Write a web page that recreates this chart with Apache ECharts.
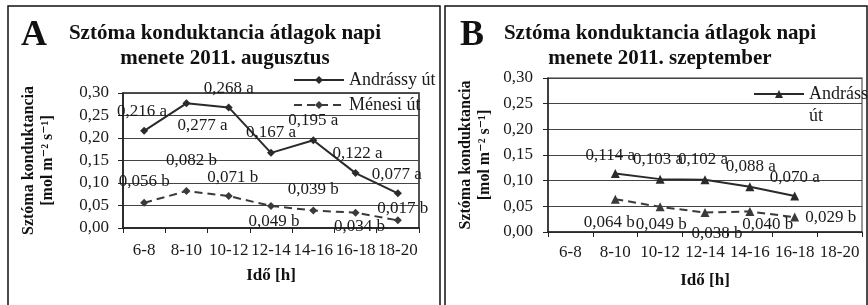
<!DOCTYPE html>
<html>
<head>
<meta charset="utf-8">
<script src="https://cdn.jsdelivr.net/npm/echarts@6/dist/echarts.min.js"></script>
<style>
    body { margin: 0; background: #fff; }
    #chartA { position: absolute; left: 0; top: 0; width: 442px; height: 305px; }
    #chartB { position: absolute; left: 442px; top: 0; width: 426px; height: 305px; }
</style>
</head>
<body>
<div id="chartA"></div>
<div id="chartB"></div>
<script>
var categories = ['6-8', '8-10', '10-12', '12-14', '14-16', '16-18', '18-20'];

// augusztus
var andrassyAug = [0.216, 0.277, 0.268, 0.167, 0.195, 0.122, 0.077];
var menesiAug = [0.056, 0.082, 0.071, 0.049, 0.039, 0.034, 0.017];
// szeptember
var andrassySep = ['-', 0.114, 0.103, 0.102, 0.088, 0.070, '-'];
var menesiSep = ['-', 0.064, 0.049, 0.038, 0.040, 0.029, '-'];

var letterAndrassy = 'a';
var letterMenesi = 'b';

// label offsets (px) from the point
var offAndrassyAug = [[-2, -19], [16, 22], [0, -19], [0, -20], [0, -20], [2, -20], [-1, -19]];
var offMenesiAug = [[0, -21], [5, -31], [4, -19], [3, 16], [0, -21], [4, 14], [5, -12]];
var offAndrassySep = [[0, 0], [-5, -18], [-2, -20], [-2, -20], [1, -20], [0, -19], [0, 0]];
var offMenesiSep = [[0, 0], [-6, 23], [1, 18], [12, 21], [18, 13], [36, 0], [0, 0]];

var serif = '"Liberation Serif", "DejaVu Serif", serif';

function fmt(v, digits) {
    return v.toFixed(digits).replace('.', ',');
}

function makeData(values, offsets) {
    var data = [];
    for (var i = 0; i < values.length; i++) {
        data.push({
            value: values[i],
            label: {offset: offsets[i]}
        });
    }
    return data;
}

function makeSeries(name, values, offsets, letter, symbol, size, dashed) {
    return {
        name: name,
        type: 'line',
        data: makeData(values, offsets),
        symbol: symbol,
        symbolSize: size,
        itemStyle: {color: dashed ? '#3a3a3a' : '#2a2a2a'},
        lineStyle: {
            color: dashed ? '#3a3a3a' : '#2a2a2a',
            width: 2,
            type: dashed ? [8, 5] : 'solid'
        },
        label: {
            show: true,
            position: 'inside',
            color: '#1a1a1a',
            fontFamily: serif,
            fontSize: 17,
            formatter: function (p) {
                return fmt(p.value, 3) + ' ' + letter;
            }
        },
        emphasis: {disabled: true},
        animation: false
    };
}

function createDayChart(id, cfg) {
    var chart = echarts.init(document.getElementById(id));
    var option = {
        backgroundColor: '#fff',
        animation: false,
        title: [
            {
                text: cfg.letter,
                left: cfg.letterX,
                top: 18,
                padding: 0,
                textStyle: {fontFamily: serif, fontSize: 36, fontWeight: 'bold', color: '#111', lineHeight: 36}
            },
            {
                text: cfg.title,
                left: cfg.titleX,
                top: 21,
                padding: 0,
                textAlign: 'center',
                textStyle: {fontFamily: serif, fontSize: 21, fontWeight: 'bold', color: '#111', lineHeight: 25}
            }
        ],
        legend: cfg.legend,
        grid: {
            left: cfg.grid[0],
            top: cfg.grid[1],
            width: cfg.grid[2],
            height: cfg.grid[3],
            show: true,
            backgroundColor: 'transparent',
            borderColor: cfg.frameColor,
            borderWidth: 1.5,
            containLabel: false,
            outerBoundsMode: 'none'
        },
        xAxis: {
            type: 'category',
            data: categories,
            boundaryGap: true,
            name: 'Idő [h]',
            nameLocation: 'middle',
            nameGap: cfg.xNameGap,
            nameTextStyle: {fontFamily: serif, fontSize: 17, fontWeight: 'bold', color: '#111'},
            axisLine: {lineStyle: {color: '#222', width: 1.5}},
            axisTick: {show: true, length: 5, alignWithLabel: false, lineStyle: {color: '#222'}},
            axisLabel: {
                interval: 0,
                hideOverlap: false,
                margin: cfg.xLabelMargin,
                fontFamily: serif,
                fontSize: 17,
                color: '#1a1a1a'
            },
            splitLine: {show: false}
        },
        yAxis: {
            type: 'value',
            min: 0,
            max: 0.3,
            interval: 0.05,
            name: 'Sztóma konduktancia\n[mol m⁻² s⁻¹]',
            nameLocation: 'middle',
            nameRotate: 90,
            nameGap: cfg.yNameGap,
            nameMoveOverlap: false,
            nameTextStyle: {fontFamily: serif, fontSize: 16, fontWeight: 'bold', color: '#111', lineHeight: 19},
            axisLine: {show: true, lineStyle: {color: '#222', width: 1.5}},
            axisTick: {show: true, length: 5, lineStyle: {color: '#222'}},
            axisLabel: {
                margin: cfg.yLabelMargin,
                fontFamily: serif,
                fontSize: 17,
                color: '#1a1a1a',
                formatter: function (v) {
                    return fmt(v, 2);
                }
            },
            splitLine: {show: true, lineStyle: {color: cfg.splitColor, width: 1.2}}
        },
        graphic: [{
            type: 'rect',
            shape: {x: cfg.border[0], y: cfg.border[1], width: cfg.border[2], height: 400},
            style: {fill: 'none', stroke: '#111', lineWidth: 1.5},
            silent: true
        }],
        series: cfg.series
    };
    chart.setOption(option);
    return chart;
}

createDayChart('chartA', {
    letter: 'A',
    letterX: 21,
    title: 'Sztóma konduktancia átlagok napi\nmenete 2011. augusztus',
    titleX: 225,
    grid: [123, 93, 296, 135],
    frameColor: '#1a1a1a',
    splitColor: '#444',
    border: [8, 6, 432],
    xNameGap: 39,
    xLabelMargin: 14,
    yNameGap: 66,
    yLabelMargin: 14,
    legend: {
        orient: 'vertical',
        left: 288,
        top: 66,
        itemWidth: 50,
        itemHeight: 10,
        itemGap: 7,
        textStyle: {fontFamily: serif, fontSize: 18, color: '#1a1a1a', lineHeight: 15},
        data: ['Andrássy út', 'Ménesi út']
    },
    series: [
        makeSeries('Andrássy út', andrassyAug, offAndrassyAug, letterAndrassy, 'diamond', 8, false),
        makeSeries('Ménesi út', menesiAug, offMenesiAug, letterMenesi, 'diamond', 8, true)
    ]
});

createDayChart('chartB', {
    letter: 'B',
    letterX: 18,
    title: 'Sztóma konduktancia átlagok napi\nmenete 2011. szeptember',
    titleX: 218,
    grid: [106, 78, 314, 154],
    frameColor: '#777',
    splitColor: '#444',
    border: [3, 6, 422],
    xNameGap: 40,
    xLabelMargin: 12,
    yNameGap: 54,
    yLabelMargin: 15,
    legend: {
        orient: 'vertical',
        left: 306,
        top: 56,
        itemWidth: 50,
        itemHeight: 10,
        textStyle: {fontFamily: serif, fontSize: 18, color: '#1a1a1a', lineHeight: 22},
        // empty first line keeps "Andrássy" level with the icon
        formatter: function () {
            return ' \nAndrássy\nút';
        },
        data: ['Andrássy út']
    },
    series: [
        makeSeries('Andrássy út', andrassySep, offAndrassySep, letterAndrassy, 'triangle', 9, false),
        makeSeries('Ménesi út', menesiSep, offMenesiSep, letterMenesi, 'triangle', 9, true)
    ]
});
</script>
</body>
</html>
